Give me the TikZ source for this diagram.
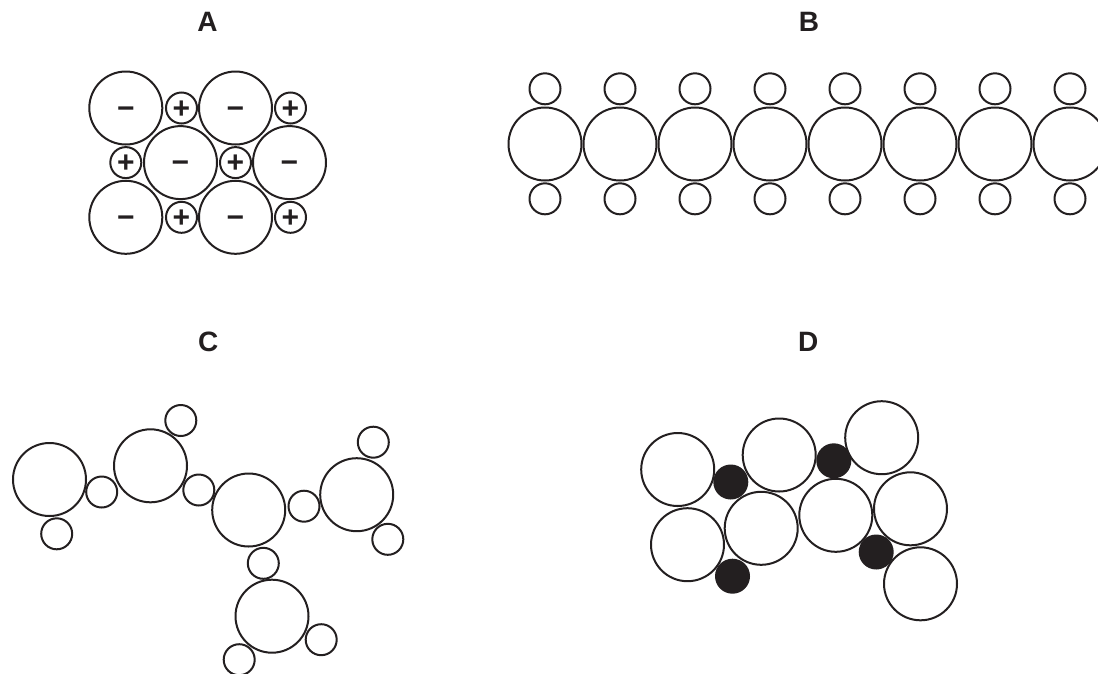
\documentclass[tikz,border=0pt]{standalone}
\usepackage{fontspec}
\setmainfont{Liberation Sans}
\definecolor{ink}{RGB}{35,31,32}
\tikzset{
  big/.style={circle, draw=ink, line width=2pt, inner sep=0pt, minimum size=73pt},
  small/.style={circle, draw=ink, line width=2pt, inner sep=0pt, minimum size=31pt},
  dot/.style={circle, fill=ink, inner sep=0pt, minimum size=35pt},
  panel/.style={font=\fontsize{28}{30}\selectfont\bfseries, text=ink},
  sign/.style={font=\fontsize{30}{30}\selectfont\bfseries, text=ink, text height=20pt, text depth=0pt}
}
\begin{document}
\begin{tikzpicture}[x=1pt,y=-1pt]
\clip (0,0) rectangle (1098,673);
% labels
\node[panel] (LA) at (207.5,21.7) {A};
\node[panel] (LB) at (809,21.7) {B};
\node[panel] (LC) at (208.3,342.2) {C};
\node[panel] (LD) at (808.3,341.7) {D};
% Panel A
\node[big,sign] (a1) at (125.8,108) {−};
\node[small,sign] (a2) at (181.5,108) {+};
\node[big,sign] (a3) at (235.5,108) {−};
\node[small,sign] (a4) at (290.5,108) {+};
\node[small,sign] (a5) at (125.8,162.6) {+};
\node[big,sign] (a6) at (180.5,162.6) {−};
\node[small,sign] (a7) at (235.5,162.6) {+};
\node[big,sign] (a8) at (289.5,162.6) {−};
\node[big,sign] (a9) at (125.8,217.3) {−};
\node[small,sign] (a10) at (181.5,217.3) {+};
\node[big,sign] (a11) at (235.5,217.3) {−};
\node[small,sign] (a12) at (290.5,217.3) {+};
% Panel B
\foreach \i in {0,...,7}{
  \node[big] (b\i) at (545+75*\i,144) {};
  \node[small] (bt\i) at (545+75*\i,88.8) {};
  \node[small] (bb\i) at (545+75*\i,198.8) {};
}
% Panel C
\node[big] (c1) at (49.5,479.5) {};
\node[small] (c2) at (56.7,533.8) {};
\node[small] (c3) at (101.7,492) {};
\node[big] (c4) at (150.5,465.8) {};
\node[small] (c5) at (180.8,420.5) {};
\node[small] (c6) at (198.8,490) {};
\node[big] (c7) at (248.7,510) {};
\node[small] (c8) at (304,506.2) {};
\node[big] (c9) at (356.7,494.7) {};
\node[small] (c10) at (373.3,442.2) {};
\node[small] (c11) at (387.8,539.3) {};
\node[small] (c12) at (263.3,563.3) {};
\node[big] (c13) at (272,616.2) {};
\node[small] (c14) at (321.2,639.7) {};
\node[small] (c15) at (239.2,659.7) {};
% Panel D
\node[big] (d1) at (677.7,469.5) {};
\node[big] (d2) at (779.2,455) {};
\node[big] (d3) at (881.7,437.7) {};
\node[big] (d4) at (687.5,544.7) {};
\node[big] (d5) at (761.2,528.3) {};
\node[big] (d6) at (835.8,515.3) {};
\node[big] (d7) at (910.5,508.8) {};
\node[big] (d8) at (920.5,583.8) {};
\node[dot] (e1) at (730.8,482) {};
\node[dot] (e2) at (833.8,460.8) {};
\node[dot] (e3) at (732.5,576.2) {};
\node[dot] (e4) at (876.2,552) {};
\end{tikzpicture}
\end{document}
